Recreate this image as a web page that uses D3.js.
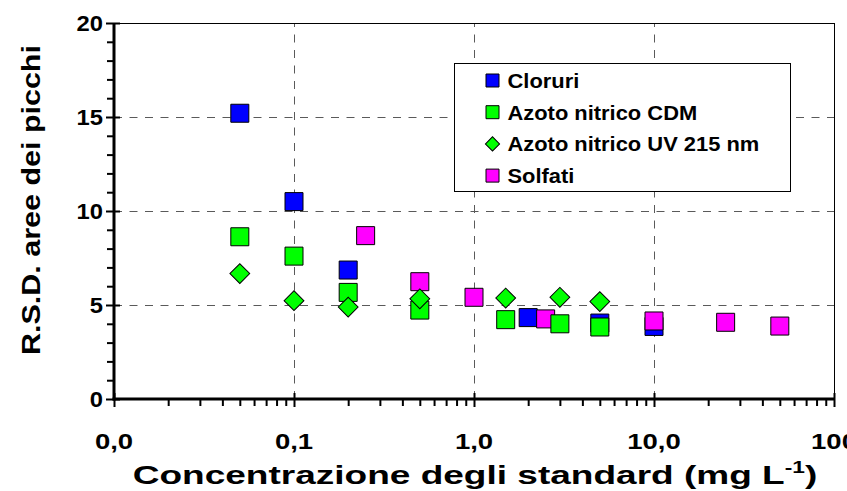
<!DOCTYPE html>
<html>
<head>
<meta charset="utf-8">
<script src="https://cdn.jsdelivr.net/npm/d3@7"></script>
<style>
  body { margin: 0; background: #fff; }
  svg text { font-family: "Liberation Sans", Arial, Helvetica, sans-serif; font-weight: bold; fill: #000; }
</style>
</head>
<body>
<div id="chart"></div>
<script>
// Concentrations (mg/L) and R.S.D. values per series
const clorX = [0.05, 0.1, 0.2, 2, 5, 10];
const clorY = [15.2, 10.5, 6.86, 4.33, 4.04, 3.86];

const cdmX = [0.05, 0.1, 0.2, 0.5, 1.5, 3, 5];
const cdmY = [8.63, 7.6, 5.67, 4.73, 4.22, 4.0, 3.83];

const uvX = [0.05, 0.1, 0.2, 0.5, 1.5, 3, 5];
const uvY = [6.67, 5.23, 4.89, 5.33, 5.37, 5.41, 5.18];

const solfX = [0.25, 0.5, 1, 2.5, 10, 25, 50];
const solfY = [8.69, 6.24, 5.41, 4.26, 4.15, 4.08, 3.88];

const seriesNames = ["Cloruri", "Azoto nitrico CDM", "Azoto nitrico UV 215 nm", "Solfati"];
const xTickValues = [0.01, 0.1, 1, 10, 100];
const xTickLabels = ["0,0", "0,1", "1,0", "10,0", "100"];
const yTickValues = [0, 5, 10, 15, 20];

// Stretch a text horizontally around its anchor point (the source chart has wide lettering)
function stretchText(sel, sx, rot) {
  sel.each(function () {
    const t = d3.select(this);
    const px = +t.attr("x") || 0;
    const py = +t.attr("y") || 0;
    t.attr("x", 0)
      .attr("y", 0)
      .attr("transform", `translate(${px},${py})` + (rot ? ` rotate(${rot})` : "") + ` scale(${sx},1)`);
  });
}

// Set up the SVG and scales
function setupChart() {
  const width = 847;
  const height = 491;
  const svg = d3
    .select("#chart")
    .append("svg")
    .attr("width", width)
    .attr("height", height);

  const x = d3.scaleLog().domain([0.01, 100]).range([114, 834]);
  const y = d3.scaleLinear().domain([0, 20]).range([399, 23]);
  return { svg, x, y };
}

// Dashed grid lines and thin frame on top/right
function drawGrid(svg, x, y) {
  const grid = svg.append("g").attr("class", "grid");
  grid
    .selectAll("line.gy")
    .data([5, 10, 15])
    .enter()
    .append("line")
    .attr("x1", x(0.01))
    .attr("x2", x(100))
    .attr("y1", (d) => Math.round(y(d)) + 0.5)
    .attr("y2", (d) => Math.round(y(d)) + 0.5)
    .style("stroke", "#5a5a5a")
    .style("stroke-width", 1)
    .style("stroke-dasharray", "8,7.5");
  grid
    .selectAll("line.gx")
    .data([0.1, 1, 10])
    .enter()
    .append("line")
    .attr("x1", (d) => Math.round(x(d)) + 0.5)
    .attr("x2", (d) => Math.round(x(d)) + 0.5)
    .attr("y1", y(0))
    .attr("y2", y(20))
    .style("stroke", "#5a5a5a")
    .style("stroke-width", 1)
    .style("stroke-dasharray", "8,7.5");

  // thin frame on top and right
  svg.append("line")
    .attr("x1", x(0.01)).attr("x2", x(100))
    .attr("y1", y(20) + 0.5).attr("y2", y(20) + 0.5)
    .style("stroke", "#000").style("stroke-width", 1);
  svg.append("line")
    .attr("x1", x(100) + 0.5).attr("x2", x(100) + 0.5)
    .attr("y1", y(20)).attr("y2", y(0))
    .style("stroke", "#000").style("stroke-width", 1);
}

// Axes with major and minor ticks
function drawAxes(svg, x, y) {
  // y minor ticks, outward only
  const yMinor = d3.range(0, 21).filter((v) => v % 5 !== 0);
  svg
    .append("g")
    .attr("transform", `translate(${x(0.01)},0)`)
    .call(d3.axisLeft(y).tickValues(yMinor).tickSize(7).tickFormat(""))
    .call((g) => g.select(".domain").remove())
    .call((g) => g.selectAll("line").style("stroke-width", 2));

  // y major ticks, crossing the axis
  svg
    .append("g")
    .attr("transform", `translate(${x(0.01) + 6},0)`)
    .call(d3.axisLeft(y).tickValues(yTickValues).tickSize(14).tickFormat(""))
    .call((g) => g.select(".domain").remove())
    .call((g) => g.selectAll("line").style("stroke-width", 2));

  // y labels
  const yl = svg
    .append("g")
    .selectAll("text")
    .data(yTickValues)
    .enter()
    .append("text")
    .attr("x", 103)
    .attr("y", (d) => y(d) + 8)
    .attr("text-anchor", "end")
    .style("font-size", "22px")
    .text((d) => d);
  stretchText(yl, 1.08);

  // x minor ticks (2..9 of each decade), outward only
  const xMinor = [];
  for (const dec of [0.01, 0.1, 1, 10]) {
    for (let k = 2; k <= 9; k++) xMinor.push(dec * k);
  }
  svg
    .append("g")
    .attr("transform", `translate(0,${y(0)})`)
    .call(d3.axisBottom(x).tickValues(xMinor).tickSize(7).tickFormat(""))
    .call((g) => g.select(".domain").remove())
    .call((g) => g.selectAll("line").style("stroke-width", 2));

  // x major ticks, crossing the axis
  svg
    .append("g")
    .attr("transform", `translate(0,${y(0) - 6})`)
    .call(d3.axisBottom(x).tickValues(xTickValues).tickSize(14).tickFormat(""))
    .call((g) => g.select(".domain").remove())
    .call((g) => g.selectAll("line").style("stroke-width", 2));

  // x labels
  const xl = svg
    .append("g")
    .selectAll("text")
    .data(xTickValues)
    .enter()
    .append("text")
    .attr("x", (d) => x(d))
    .attr("y", 449)
    .attr("text-anchor", "middle")
    .style("font-size", "22px")
    .text((d, i) => xTickLabels[i]);
  stretchText(xl, 1.25);

  // thick axis lines
  svg.append("line")
    .attr("x1", x(0.01)).attr("x2", x(0.01))
    .attr("y1", y(20)).attr("y2", y(0) + 1.5)
    .style("stroke", "#000").style("stroke-width", 3);
  svg.append("line")
    .attr("x1", x(0.01) - 1.5).attr("x2", x(100))
    .attr("y1", y(0)).attr("y2", y(0))
    .style("stroke", "#000").style("stroke-width", 3);

  // axis titles, stretched to the reference extents
  const yt = svg
    .append("text")
    .attr("x", 40)
    .attr("y", 200)
    .attr("text-anchor", "middle")
    .style("font-size", "25px")
    .text("R.S.D. aree dei picchi");
  stretchText(yt, 310 / yt.node().getComputedTextLength(), -90);

  const xt = svg
    .append("text")
    .attr("x", 475)
    .attr("y", 484)
    .attr("text-anchor", "middle")
    .style("font-size", "26px");
  xt.append("tspan").text("Concentrazione degli standard (mg L");
  xt.append("tspan").attr("dy", -11).style("font-size", "16px").text("-1");
  xt.append("tspan").attr("dy", 11).text(")");
  stretchText(xt, 685 / xt.node().getBBox().width);
}

// Square and diamond markers for each series
function drawSeries(svg, x, y) {
  const square = d3.symbol().type(d3.symbolSquare).size(18 * 18);
  const diamond = d3.symbol().type(d3.symbolSquare).size(14 * 14);

  const series = [
    { xs: clorX, ys: clorY, fill: "#0000ff", shape: "square" },
    { xs: solfX, ys: solfY, fill: "#ff00ff", shape: "square" },
    { xs: cdmX, ys: cdmY, fill: "#00ff00", shape: "square" },
    { xs: uvX, ys: uvY, fill: "#00ff00", shape: "diamond" },
  ];

  series.forEach((s) => {
    const pts = s.xs.map((v, i) => [v, s.ys[i]]);
    svg
      .append("g")
      .selectAll("path")
      .data(pts)
      .enter()
      .append("path")
      .attr("d", s.shape === "square" ? square : diamond)
      .attr("transform", (d) =>
        `translate(${x(d[0])},${y(d[1])})` + (s.shape === "diamond" ? " rotate(45)" : "")
      )
      .style("fill", s.fill)
      .style("stroke", "#000")
      .style("stroke-width", 1);
  });
}

// Legend box in the upper right
function drawLegend(svg) {
  const lg = svg.append("g").attr("transform", "translate(454.5,63.5)");
  lg.append("rect")
    .attr("width", 336)
    .attr("height", 128)
    .style("fill", "#fff")
    .style("stroke", "#000")
    .style("stroke-width", 1);

  const fills = ["#0000ff", "#00ff00", "#00ff00", "#ff00ff"];
  const items = lg
    .selectAll("g.item")
    .data(seriesNames)
    .enter()
    .append("g")
    .attr("transform", (d, i) => `translate(38,${17 + i * 31.7})`);

  items
    .append("path")
    .attr("d", (d, i) =>
      i === 2
        ? d3.symbol().type(d3.symbolSquare).size(10 * 10)()
        : d3.symbol().type(d3.symbolSquare).size(13 * 13)()
    )
    .attr("transform", (d, i) => (i === 2 ? "rotate(45)" : ""))
    .style("fill", (d, i) => fills[i])
    .style("stroke", "#000")
    .style("stroke-width", 1);

  const lt = items
    .append("text")
    .attr("x", 15)
    .attr("y", 7.5)
    .style("font-size", "21px")
    .text((d) => d);
  const longest = lt.filter((d, i) => i === 2).node().getComputedTextLength();
  stretchText(lt, 252 / longest);
}

const { svg, x, y } = setupChart();
drawGrid(svg, x, y);
drawLegend(svg);
drawAxes(svg, x, y);
drawSeries(svg, x, y);
</script>
</body>
</html>
